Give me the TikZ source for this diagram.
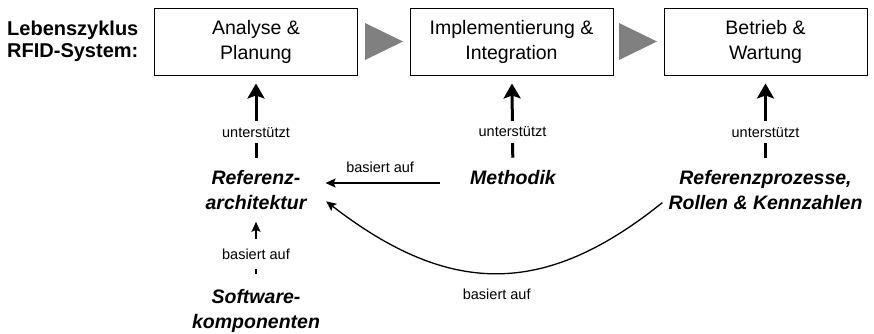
\documentclass[tikz,border=0pt]{standalone}
\usepackage{fontspec}
\setmainfont{Liberation Sans}
\usetikzlibrary{arrows.meta,calc}
\definecolor{flowgray}{RGB}{128,128,128}
\begin{document}
\begin{tikzpicture}[x=1pt,y=-1pt,
  phase/.style={font=\fontsize{19.5}{25}\selectfont, align=center, draw,
    line width=0.9pt, minimum width=203pt, minimum height=67pt, inner sep=0pt,
    execute at begin node={\rule{0pt}{22pt}}},
  title/.style={font=\fontsize{20}{22}\selectfont\bfseries, align=left,
    inner sep=0pt, anchor=west},
  part/.style={font=\fontsize{19.5}{24.5}\selectfont\bfseries\itshape,
    align=center, inner sep=0pt},
  cut/.style={font=\fontsize{14.5}{17}\selectfont, fill=white,
    inner xsep=2pt, inner ysep=6pt},
  note/.style={font=\fontsize{14.5}{17}\selectfont, inner sep=0pt},
  support/.style={line width=3pt, -{Stealth[length=15pt,width=17pt,inset=3pt]}},
  basedon/.style={line width=1.8pt, -{Stealth[length=10pt,width=9pt,inset=2pt]}},
  thinbase/.style={line width=1.3pt, -{Stealth[length=10pt,width=9pt,inset=2pt]}}
]
\useasboundingbox (0,0) rectangle (874,333);

% life cycle phases
\node[title] (lc) at (7,41.5) {Lebenszyklus\\RFID-System:};
\node[phase] (b1) at (256,41.5) {Analyse \&\\Planung};
\node[phase] (b2) at (511.5,41.5) {Implementierung \&\\Integration};
\node[phase] (b3) at (765.5,41.5) {Betrieb \&\\Wartung};

% flow triangles between the phases
\fill[flowgray] (365,23) -- (403,41.5) -- (365,60) -- cycle;
\fill[flowgray] (619,23) -- (657,41.5) -- (619,60) -- cycle;

% building blocks
\node[part] (ra) at (256,190) {Referenz-\\architektur};
\node[part] (me) at (513,178) {Methodik};
\node[part] (rp) at (765.5,190) {Referenzprozesse,\\Rollen \& Kennzahlen};
\node[part] (sw) at (256,311) {Software-\\komponenten};

% support relations
\draw[support, shorten <=12.6pt, shorten >=8pt] (ra) -- node[cut, pos=0.40] {unterstützt} (b1);
\draw[support, shorten <=12.9pt, shorten >=8pt] (me) -- node[cut, pos=0.405] {unterstützt} (b2);
\draw[support, shorten <=12.6pt, shorten >=8pt] (rp) -- node[cut, pos=0.40] {unterstützt} (b3);

% dependency relations
\draw[basedon, shorten <=15.5pt, shorten >=12.2pt] (sw) -- node[cut, pos=0.445, inner ysep=10pt] {basiert auf} (ra);
\draw[thinbase, shorten <=30pt, shorten >=19pt] ($(me.west)+(0,5)$) -- node[note, pos=0.55, above=9.7pt] {basiert auf} ($(me.west -| ra.east)+(0,5)$);
\draw[thinbase] ($(rp.south west)+(-6,-7)$) .. controls (545,297) and (450,297) .. node[note, pos=0.5, below=15pt] {basiert auf} ($(ra.south east)+(19.6,-8.3)$);
\end{tikzpicture}
\end{document}
